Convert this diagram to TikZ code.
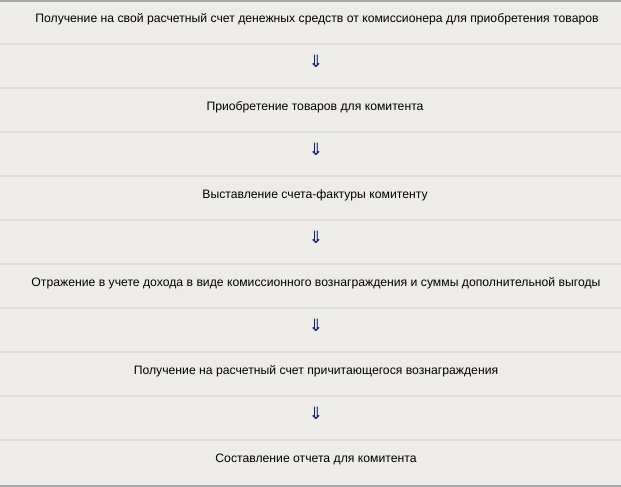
\documentclass[tikz,border=0pt]{standalone}
\usepackage{fontspec}
\setmainfont{Liberation Sans}
\newfontfamily\symfont{DejaVu Sans}
\definecolor{bg}{HTML}{EDECE8}
\definecolor{sep}{HTML}{DFDDDA}
\definecolor{brd}{HTML}{A8A8A8}
\definecolor{arr}{HTML}{0A1A6E}
\begin{document}
\begin{tikzpicture}[x=1pt,y=-1pt,
  txt/.style={inner sep=0pt, font=\fontsize{12.2}{14}\selectfont, text=black},
  arrw/.style={inner sep=0pt, font=\symfont\fontsize{17}{17}\selectfont, text=arr},
  sepline/.style={draw=sep, line width=1.5pt}]
\useasboundingbox (0,0) rectangle (621,487);
\fill[bg] (0,0) rectangle (621,487);
\draw[brd, line width=2pt] (0,1) -- (621,1);
\draw[brd, line width=2.5pt] (0,485.8) -- (621,485.8);
\foreach \y in {44,88,132,176,220,264,308,352,396,440}
  \draw[sepline] (0,\y) -- (621,\y);
\node[txt] (t1) at (317,19) {Получение на свой расчетный счет денежных средств от комиссионера для приобретения товаров};
\node[arrw] (a1) at (316,61.5) {⇓};
\node[txt] (t2) at (315,107) {Приобретение товаров для комитента};
\node[arrw] (a2) at (316,149.5) {⇓};
\node[txt] (t3) at (315,195) {Выставление счета-фактуры комитенту};
\node[arrw] (a3) at (316,237.5) {⇓};
\node[txt] (t4) at (316,283) {Отражение в учете дохода в виде комиссионного вознаграждения и суммы дополнительной выгоды};
\node[arrw] (a4) at (316,325.5) {⇓};
\node[txt] (t5) at (316,371) {Получение на расчетный счет причитающегося вознаграждения};
\node[arrw] (a5) at (316,413.5) {⇓};
\node[txt] (t6) at (316,459) {Составление отчета для комитента};
\end{tikzpicture}
\end{document}
